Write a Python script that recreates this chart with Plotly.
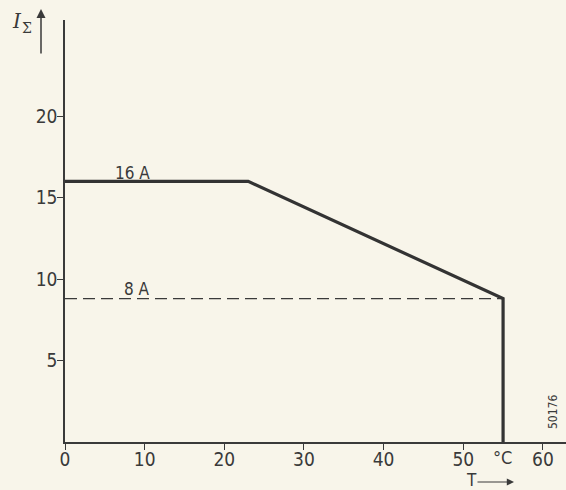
import plotly.graph_objects as go

# Data
temp_c = [0, 23, 55, 55]
current_a = [16, 16, 8.8, 0]
limit_temp = [0, 55]
limit_current = [8.8, 8.8]
x_ticks = [0, 10, 20, 30, 40, 50, 60]
y_ticks = [5, 10, 15, 20]

FONT = "Liberation Sans Narrow, DejaVu Sans Condensed, Arial Narrow, sans-serif"
INK = "#3a3a3a"
BG = "#f8f5ea"

L, R, T, B = 65, 0, 20, 48
W, H = 566, 490
pw, ph = W - L - R, H - T - B

fig = go.Figure()
fig.add_trace(go.Scatter(x=limit_temp, y=limit_current, mode="lines",
                         line=dict(color=INK, width=1.3, dash="12px,6px"),
                         hoverinfo="skip"))
fig.add_trace(go.Scatter(x=temp_c, y=current_a, mode="lines",
                         line=dict(color="#333333", width=3.2),
                         hoverinfo="skip"))

def px_x(p):
    return (p - L) / pw

def px_y(p):
    return (H - B - p) / ph

def label(xp, yp, text, size=18, family=FONT, **kw):
    return dict(x=px_x(xp), y=px_y(yp), xref="paper", yref="paper", text=text,
                showarrow=False, xanchor="center", yanchor="middle", borderpad=0,
                font=dict(family=family, size=size, color=INK), **kw)

def arrow(xp, yp, ax, ay, width=1.4):
    return dict(x=px_x(xp), y=px_y(yp), xref="paper", yref="paper", text="",
                showarrow=True, ax=ax, ay=ay, arrowhead=2, arrowsize=1.2,
                arrowwidth=width, arrowcolor=INK, xanchor="center", yanchor="middle")

SERIF = "DejaVu Serif, Liberation Serif, serif"
ann = [
    label(17, 21, "<i>I</i>", size=20, family=SERIF),
    label(27, 28, "Σ", size=14, family=SERIF),
    arrow(41, 9, 0, 46, 1.5),
    label(471, 480, "T", size=17),
    arrow(514, 482, -38, 0, 1.2),
    label(502, 457, "°C", size=18),
    label(132, 173, "16 A", size=17),
    label(137, 289, "8 A", size=17),
    label(553, 412, "50176", size=12, textangle=-90),
]

fig.update_layout(
    width=W, height=H,
    margin=dict(l=L, r=R, t=T, b=B, autoexpand=False),
    paper_bgcolor=BG, plot_bgcolor=BG,
    showlegend=False,
    annotations=ann,
    xaxis=dict(range=[0, 62.9], tickvals=x_ticks, ticktext=[str(v) for v in x_ticks],
               showgrid=False, zeroline=False, showline=True, linecolor=INK, linewidth=1.5,
               ticks="outside", ticklen=6, tickwidth=1.2, tickcolor=INK,
               ticklabelstandoff=-7,
               tickfont=dict(family=FONT, size=19, color=INK)),
    yaxis=dict(range=[0, 25.9], tickvals=y_ticks, ticktext=[str(v) for v in y_ticks],
               showgrid=False, zeroline=False, showline=True, linecolor=INK, linewidth=1.5,
               ticks="outside", ticklen=6, tickwidth=1.2, tickcolor=INK,
               ticklabelstandoff=-4,
               tickfont=dict(family=FONT, size=19, color=INK)),
)

fig.write_html("out.html", config={"displayModeBar": False},
               post_script="document.body.style.margin='0';document.body.style.background='%s';" % BG)
